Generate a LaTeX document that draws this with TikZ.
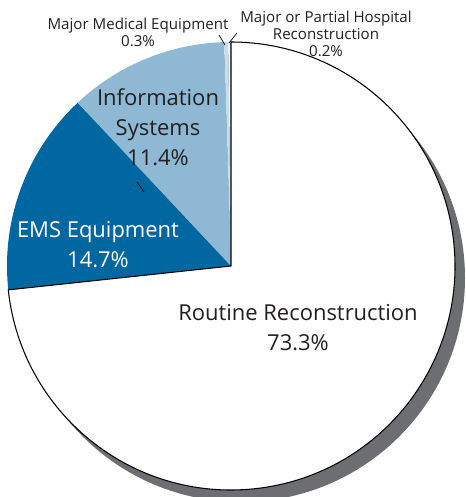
\documentclass[tikz,border=0pt]{standalone}
\usepackage{fontspec}
\setmainfont{Open Sans}
\usepackage{tikz}
\usetikzlibrary{positioning, calc}

\definecolor{emsblue}{RGB}{0,103,160}
\definecolor{infoblue}{RGB}{143,184,212}
\definecolor{medblue}{RGB}{200,221,235}
\definecolor{hospblue}{RGB}{232,241,247}
\definecolor{shadowgray}{RGB}{109,110,113}
\definecolor{labeltext}{RGB}{35,31,32}

\tikzset{
    biglabel/.style={font=\fontsize{12.5}{17}\selectfont, align=center, text=labeltext, inner sep=0pt},
    smalllabel/.style={font=\fontsize{8.6}{9.6}\selectfont, align=center, text=labeltext, inner sep=0pt},
    leader/.style={black, line width=0.4pt}
}

\begin{document}
\begin{tikzpicture}
    \def\radius{4.48}
    \useasboundingbox (-4.62,-4.62) rectangle (4.68,5.32);
    \clip (-4.62,-4.62) rectangle (4.68,5.32);

    % Shadow
    \fill[shadowgray] (0.2,-0.24) circle (\radius);

    % Routine Reconstruction: 73.3% (-173.88 to 90)
    \fill[white] (0,0) -- (-173.88:\radius) arc (-173.88:90:\radius) -- cycle;

    % EMS Equipment: 14.7% (133.2 to 186.12)
    \fill[emsblue] (0,0) -- (133.2:\radius) arc (133.2:186.12:\radius) -- cycle;

    % Information Systems: 11.4% (91.8 to 133.2)
    \fill[infoblue] (0,0) -- (91.8:\radius) arc (91.8:133.2:\radius) -- cycle;

    % Major Medical Equipment: 0.3% (90.72 to 91.8)
    \fill[medblue] (0,0) -- (90.72:\radius) arc (90.72:91.8:\radius) -- cycle;

    % Major or Partial Hospital Reconstruction: 0.2% (90 to 90.72)
    \fill[hospblue] (0,0) -- (90:\radius) arc (90:90.72:\radius) -- cycle;

    % Outline of the large slice
    \draw[line width=0.6pt] (0,0) -- (-173.88:\radius) arc (-173.88:90:\radius) -- cycle;

    % Labels
    \node[biglabel] (routine) at (1.34,-1.24) {Routine Reconstruction\\73.3\%};
    \node[biglabel, text=white] (ems) at (-2.66,0.43) {EMS Equipment\\14.7\%};
    \node[biglabel] (info) at (-1.46,2.78) {Information\\Systems\\11.4\%};
    \node[smalllabel] (medlbl) at (-1.86,4.67) {Major Medical Equipment\\0.3\%};
    \node[smalllabel] (hosplbl) at (1.90,4.64) {Major or Partial Hospital\\Reconstruction\\0.2\%};

    % Leader lines
    \coordinate (medA) at (-0.24,4.62);
    \coordinate (medB) at (-0.12,4.42);
    \coordinate (hospA) at (0.12,4.66);
    \coordinate (hospB) at (-0.04,4.46);
    \draw[leader] (medA) -- (medB);
    \draw[leader] (hospA) -- (hospB);
    \coordinate (tickA) at (-1.88,1.68);
    \coordinate (tickB) at (-1.74,1.48);
    \draw[leader] (tickA) -- (tickB);
\end{tikzpicture}
\end{document}
